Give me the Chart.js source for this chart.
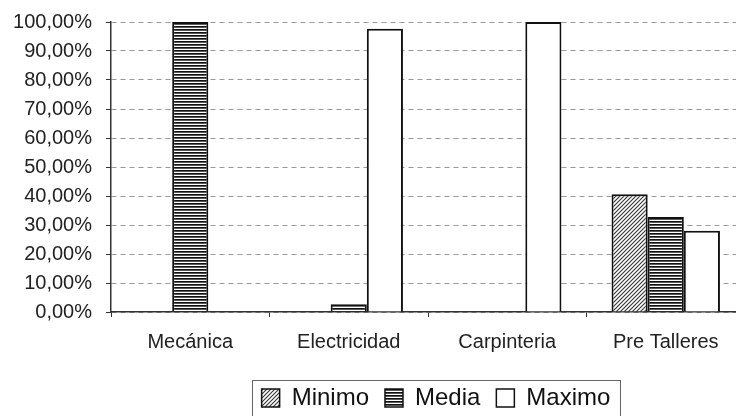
<!DOCTYPE html>
<html>
<head>
<meta charset="utf-8">
<script src="https://cdn.jsdelivr.net/npm/chart.js@4.4.1/dist/chart.umd.min.js"></script>
<style>
html,body{margin:0;padding:0;background:#fff;overflow:hidden;}
canvas{display:block;margin-top:-4px;}
</style>
</head>
<body>
<canvas id="c" width="872" height="430"></canvas>
<script>
const categories = ['Mecánica', 'Electricidad', 'Carpinteria', 'Pre Talleres'];
const minimo = [0, 0, 0, 40.6];
const media = [100, 2.7, 0, 32.8];
const maximo = [0, 97.7, 100, 28.0];
const yTickLabels = ['0,00%','10,00%','20,00%','30,00%','40,00%','50,00%','60,00%','70,00%','80,00%','90,00%','100,00%'];

function hatchPattern() {
  const c = document.createElement('canvas');
  c.width = 4; c.height = 4;
  const x = c.getContext('2d');
  x.fillStyle = '#fff'; x.fillRect(0,0,4,4);
  x.strokeStyle = '#333'; x.lineWidth = 1.1;
  x.beginPath();
  x.moveTo(0,4); x.lineTo(4,0);
  x.moveTo(-1,1); x.lineTo(1,-1);
  x.moveTo(3,5); x.lineTo(5,3);
  x.stroke();
  return x.createPattern(c, 'repeat');
}
function stripePattern() {
  const c = document.createElement('canvas');
  c.width = 8; c.height = 3;
  const x = c.getContext('2d');
  x.fillStyle = '#fff'; x.fillRect(0,0,8,3);
  x.fillStyle = '#111'; x.fillRect(0,0,8,1.7);
  return x.createPattern(c, 'repeat');
}

const FONT = '"Liberation Sans", Arial, sans-serif';

const legendBorder = {
  id: 'legendBorder',
  afterDraw(chart) {
    const lg = chart.legend;
    if (!lg || !lg.legendHitBoxes || !lg.legendHitBoxes.length) return;
    const hb = lg.legendHitBoxes;
    const l = hb[0].left - 10;
    const r = hb[hb.length-1].left + hb[hb.length-1].width + 9;
    const t = hb[0].top - 6;
    const ctx = chart.ctx;
    ctx.save();
    ctx.strokeStyle = '#666';
    ctx.lineWidth = 1;
    ctx.strokeRect(Math.round(l)+0.5, Math.round(t)+0.5, Math.round(r-l), 60);
    ctx.restore();
  }
};

new Chart(document.getElementById('c'), {
  type: 'bar',
  data: {
    labels: categories,
    datasets: [
      {label: 'Minimo', data: minimo, backgroundColor: hatchPattern(), borderColor: '#111', borderWidth: 2},
      {label: 'Media', data: media, backgroundColor: stripePattern(), borderColor: '#111', borderWidth: 2},
      {label: 'Maximo', data: maximo, backgroundColor: '#fff', borderColor: '#111', borderWidth: 2}
    ]
  },
  options: {
    responsive: false,
    animation: false,
    layout: {padding: {top: 15, left: 0, right: 0, bottom: 6}},
    datasets: {bar: {barPercentage: 1, categoryPercentage: 0.684, borderSkipped: 'start'}},
    plugins: {
      tooltip: {enabled: false},
      legend: {
        position: 'bottom',
        labels: {
          color: '#111',
          font: {family: FONT, size: 24},
          boxWidth: 18,
          boxHeight: 18,
          padding: 16,
          generateLabels(chart) {
            const items = Chart.defaults.plugins.legend.labels.generateLabels(chart);
            items.forEach(it => { it.lineWidth = 1.5; });
            return items;
          }
        }
      }
    },
    scales: {
      x: {
        grid: {display: true, drawOnChartArea: false, drawTicks: true, tickLength: 5, tickColor: '#333', offset: true},
        border: {display: true, color: '#333', width: 1.5},
        ticks: {color: '#222', font: {family: FONT, size: 20}, padding: 13, maxRotation: 0},
        afterFit(s) { s.height = 58; }
      },
      y: {
        min: 0, max: 100,
        grid: {color: '#999', lineWidth: 1, tickLength: 5, tickColor: '#333', drawTicks: true},
        border: {display: true, color: '#333', width: 1.5, dash: [5, 4]},
        ticks: {stepSize: 10, color: '#222', font: {family: FONT, size: 20}, padding: 14,
          callback: (v, i) => yTickLabels[i]},
        afterFit(s) { s.width = 111; }
      },
      y2: {
        position: 'right',
        display: true,
        grid: {display: false},
        border: {display: false},
        ticks: {display: false},
        afterFit(s) { s.width = 127; }
      }
    }
  },
  plugins: [legendBorder]
});
</script>
</body>
</html>
